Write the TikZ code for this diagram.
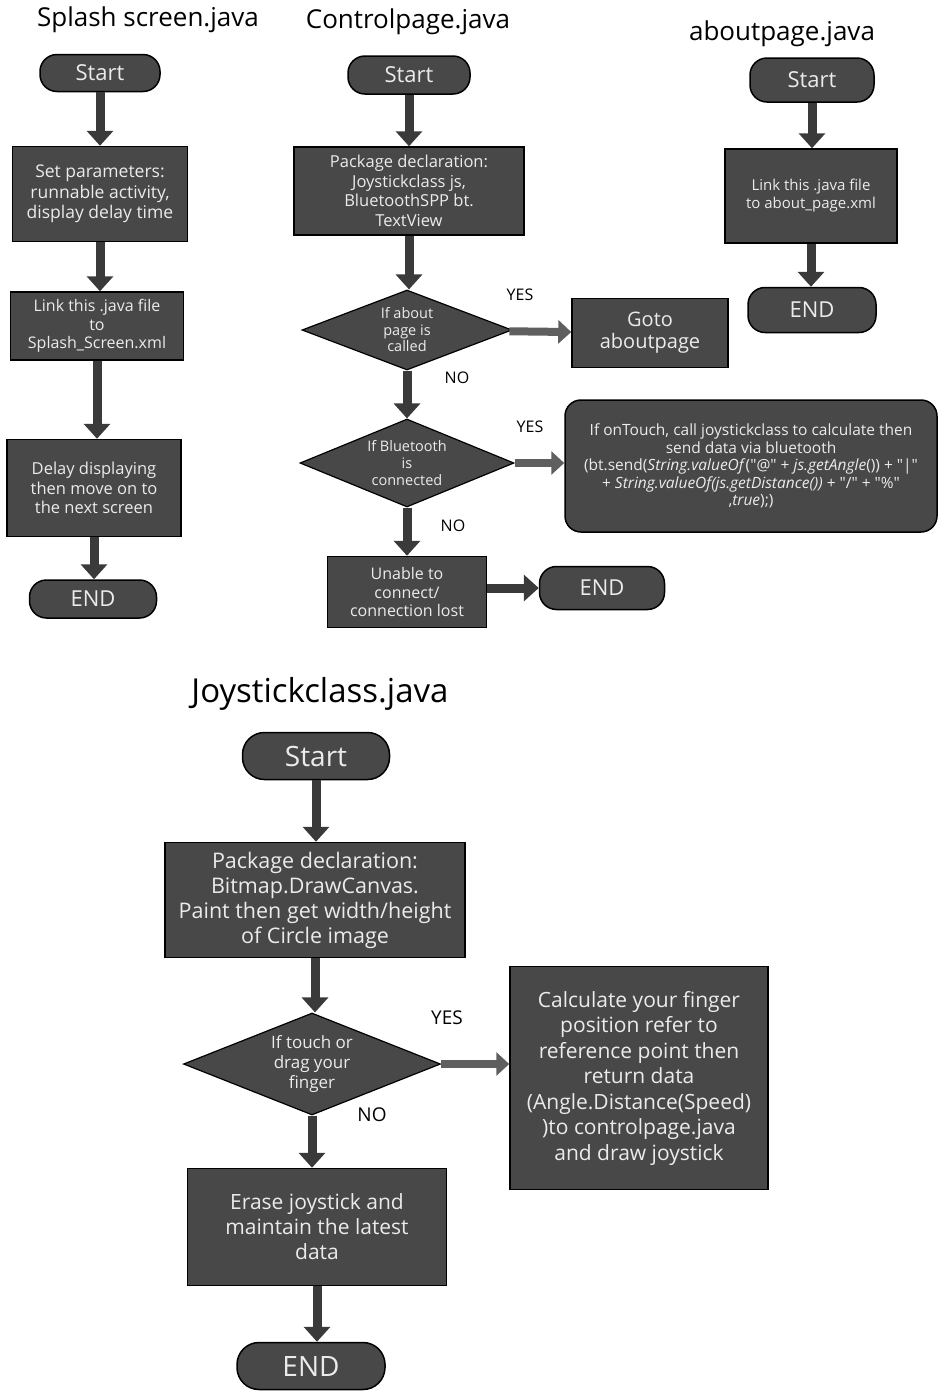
\documentclass[tikz,border=0pt]{standalone}
\usepackage{fontspec}
\setmainfont{Open Sans}
\usetikzlibrary{shapes.geometric,arrows.meta}

\definecolor{boxgray}{RGB}{72,72,72}
\definecolor{flowgray}{RGB}{58,58,58}
\definecolor{yesgray}{RGB}{95,95,95}

\newcommand{\fs}[2]{\fontsize{#1}{#2}\selectfont}
\newcommand{\q}[1]{\textquotedbl#1\textquotedbl}

\begin{document}
\begin{tikzpicture}[x=1pt, y=-1pt,
  term/.style={draw=black, line width=1.5pt, fill=boxgray, text=white!92!black, rounded corners=17pt, inner sep=0pt},
  proc/.style={draw=black, line width=1.5pt, fill=boxgray, text=white!92!black, align=center, inner sep=0pt},
  dec/.style={diamond, draw=black, line width=1.2pt, fill=boxgray, text=white!92!black, align=center, inner sep=0pt},
  flow/.style={draw=flowgray, line width=9pt, -{Triangle[width=26pt,length=15pt]}},
  yesflow/.style={draw=yesgray, line width=8pt, -{Triangle[width=23pt,length=13pt]}},
  lbl/.style={font=\fs{16}{18}},
  title/.style={font=\fs{26}{30}}]
  \useasboundingbox (0,0) rectangle (938,1393);

  % Splash screen
  \node[title] (splashtitle) at (148,20) {Splash screen.java};
  \node[term, minimum width=120pt, minimum height=37pt, font=\fs{22}{26}] (s0) at (100,73) {Start};
  \node[proc, minimum width=175pt, minimum height=95pt, font=\fs{17.5}{20.5}] (s1) at (100,194) {Set parameters:\\runnable activity,\\display delay time};
  \node[proc, minimum width=173pt, minimum height=68pt, font=\fs{16}{18.5}] (s2) at (97,326) {Link this .java file\\to\\Splash\_Screen.xml};
  \node[proc, minimum width=174pt, minimum height=97pt, font=\fs{16.5}{19.5}] (s3) at (94,488) {Delay displaying\\then move on to\\the next screen};
  \node[term, minimum width=127pt, minimum height=38pt, font=\fs{22}{26}] (s4) at (93,599) {END};
  \draw[flow] (s0) -- (s0 |- s1.north);
  \draw[flow] (s1) -- (s1 |- s2.north);
  \draw[flow] (s2) -- (s2 |- s3.north);
  \draw[flow] (s3) -- (s3 |- s4.north);

  % Controlpage
  \node[title] (controltitle) at (408,22) {Controlpage.java};
  \node[term, minimum width=122pt, minimum height=38pt, font=\fs{22}{26}] (c0) at (409,75) {Start};
  \node[proc, minimum width=230pt, minimum height=88pt, font=\fs{16.5}{19.5}] (c1) at (409,191) {Package declaration:\\Joystickclass js,\\BluetoothSPP bt.\\TextView};
  \node[dec, minimum width=210pt, minimum height=80pt, aspect=2.6, font=\fs{14.5}{16.5}] (c2) at (407,330) {If about\\page is\\called};
  \node[proc, minimum width=156pt, minimum height=69pt, font=\fs{20}{22}] (c3) at (650,333) {Goto\\aboutpage};
  \node[dec, minimum width=214pt, minimum height=88pt, aspect=2.4, font=\fs{14.5}{17}] (c4) at (407,463) {If Bluetooth\\is\\connected};
  \node[proc, rounded corners=16pt, minimum width=372pt, minimum height=132pt, font=\fs{15.5}{17.5}] (c5) at (751,466) {If onTouch, call joystickclass to calculate then\\send data via bluetooth\\(bt.send(\textit{String.valueOf}(\q{@} + \textit{js.getAngle}()) + \q{|}\\+ \textit{String.valueOf(js.getDistance())} + \q{/} + \q{\%}\\,\textit{true});)};
  \node[proc, minimum width=159pt, minimum height=71pt, font=\fs{16}{18.5}] (c6) at (407,592) {Unable to\\connect/\\connection lost};
  \node[term, minimum width=125pt, minimum height=43pt, font=\fs{22}{26}] (c7) at (602,588) {END};
  \draw[flow] (c0) -- (c0 |- c1.north);
  \draw[flow] (c1) -- (c1 |- c2.north);
  \draw[yesflow] (c2) -- (c3);
  \draw[flow] (c2) -- (c2 |- c4.north);
  \draw[yesflow] (c4.east) -- (c5.west |- c4.east);
  \draw[flow] (c4) -- (c4 |- c6.north);
  \draw[flow] (c6.east |- c7) -- (c7);
  \node[lbl] (yes1) at (520,295) {YES};
  \node[lbl] (no1) at (457,378) {NO};
  \node[lbl] (yes2) at (530,427) {YES};
  \node[lbl] (no2) at (453,526) {NO};

  % aboutpage
  \node[title] (abouttitle) at (782,34) {aboutpage.java};
  \node[term, minimum width=124pt, minimum height=44pt, font=\fs{22}{26}] (a0) at (812,80) {Start};
  \node[proc, minimum width=172pt, minimum height=94pt, font=\fs{15}{18}] (a1) at (811,196) {Link this .java file\\to about\_page.xml};
  \node[term, minimum width=128pt, minimum height=45pt, font=\fs{22}{26}] (a2) at (812,310) {END};
  \draw[flow] (a0) -- (a0 |- a1.north);
  \draw[flow] (a1) -- (a1 |- a2.north);

  % Joystickclass
  \node[font=\fs{33}{38}] (joytitle) at (320,694) {Joystickclass.java};
  \node[term, rounded corners=22pt, minimum width=147pt, minimum height=47pt, font=\fs{28}{32}] (j0) at (316,756) {Start};
  \node[proc, minimum width=300pt, minimum height=115pt, font=\fs{21.5}{25}] (j1) at (315,900) {Package declaration:\\Bitmap.DrawCanvas.\\Paint then get width/height\\of Circle image};
  \node[dec, minimum width=257pt, minimum height=102pt, aspect=2.5, font=\fs{17}{20}] (j2) at (312,1064) {If touch or\\drag your\\finger};
  \node[proc, minimum width=258pt, minimum height=223pt, font=\fs{21}{25.5}] (j3) at (639,1078) {Calculate your finger\\position refer to\\reference point then\\return data\\(Angle.Distance(Speed)\\)to controlpage.java\\and draw joystick};
  \node[proc, minimum width=259pt, minimum height=117pt, font=\fs{21}{25}] (j4) at (317,1227) {Erase joystick and\\maintain the latest\\data};
  \node[term, rounded corners=22pt, minimum width=148pt, minimum height=47pt, font=\fs{28}{32}] (j5) at (311,1366) {END};
  \draw[flow] (j0) -- (j0 |- j1.north);
  \draw[flow] (j1) -- (j1 |- j2.north);
  \draw[yesflow] (j2.east) -- (j3.west |- j2.east);
  \draw[flow] (j2) -- (j2 |- j4.north);
  \draw[flow] (j4) -- (j4 |- j5.north);
  \node[lbl, font=\fs{19}{22}] (yes3) at (447,1018) {YES};
  \node[lbl, font=\fs{19}{22}] (no3) at (372,1115) {NO};
\end{tikzpicture}
\end{document}
